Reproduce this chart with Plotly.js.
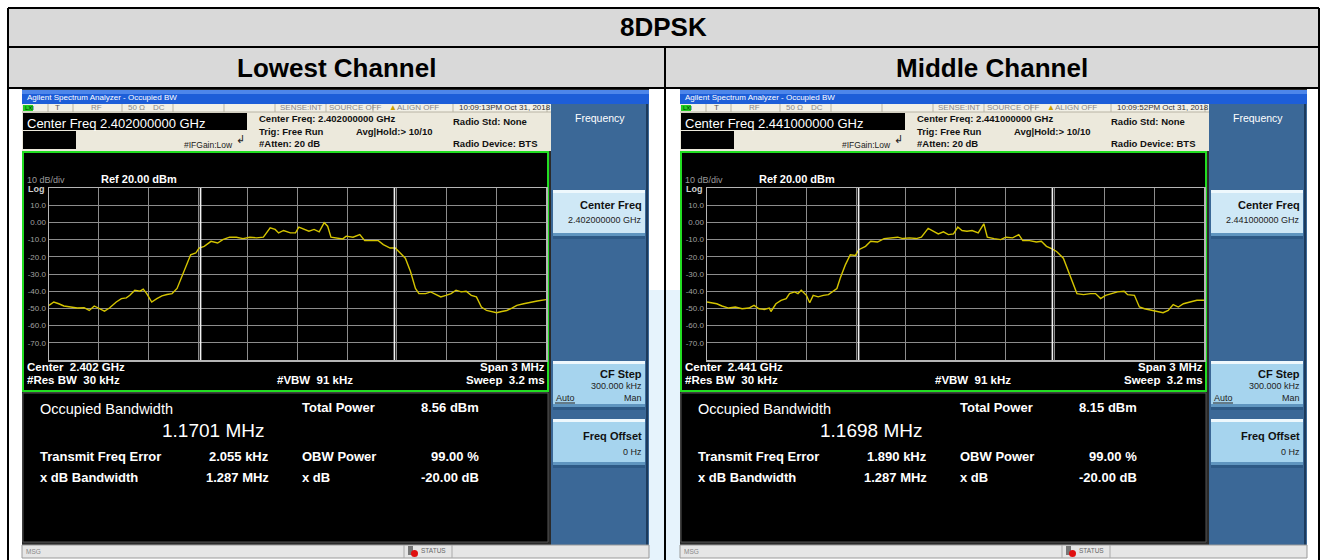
<!DOCTYPE html>
<html><head><meta charset="utf-8">
<script src="https://cdn.plot.ly/plotly-3.0.1.min.js"></script>
<style>html,body{margin:0;padding:0;background:#fff}#chart{width:1326px;height:560px}</style>
</head><body><div id="chart"></div>
<script>
// ---------------- DATA ----------------
const tableTitle = "8DPSK";
const channelNames = ["Lowest Channel", "Middle Channel"];
const centerFreqFull = ["2.402000000", "2.441000000"];
const centerFreqShort = ["2.402", "2.441"];
const timestamps = ["10:09:13PM Oct 31, 2018", "10:09:52PM Oct 31, 2018"];
const occupiedBW_MHz = ["1.1701", "1.1698"];
const totalPower_dBm = ["8.56", "8.15"];
const freqError_kHz = ["2.055", "1.890"];
const xdbBandwidth_MHz = ["1.287", "1.287"];
const obwPower = "99.00 %";
const xdbValue = "-20.00 dB";

const yTickVals = [10, 0, -10, -20, -30, -40, -50, -60, -70];
const yTickText = ["10.0", "0.00", "-10.0", "-20.0", "-30.0", "-40.0", "-50.0", "-60.0", "-70.0"];
const xGridMHz = [-1.5, -1.2, -0.9, -0.6, -0.3, 0, 0.3, 0.6, 0.9, 1.2, 1.5];

// trace, lowest channel (offset from center in MHz, level in dBm)
const offsetLow = [-1.500,-1.471,-1.441,-1.410,-1.369,-1.329,-1.288,-1.257,-1.227,-1.196,-1.165,-1.135,-1.094,-1.063,-1.033,-1.012,-0.982,-0.951,-0.931,-0.910,-0.880,-0.849,-0.818,-0.788,-0.757,-0.727,-0.706,-0.676,-0.645,-0.614,-0.594,-0.563,-0.522,-0.482,-0.451,-0.410,-0.369,-0.329,-0.288,-0.247,-0.206,-0.165,-0.135,-0.114,-0.084,-0.043,-0.012,0.008,0.039,0.069,0.100,0.131,0.161,0.182,0.202,0.243,0.273,0.294,0.335,0.376,0.406,0.447,0.488,0.518,0.559,0.590,0.620,0.651,0.682,0.712,0.733,0.773,0.804,0.835,0.865,0.896,0.927,0.957,0.988,1.018,1.049,1.080,1.110,1.141,1.171,1.202,1.233,1.263,1.294,1.324,1.365,1.406,1.447,1.500];
const levelLow = [-48.2,-46.3,-47.3,-48.6,-49.2,-49.8,-49.6,-51.2,-48.6,-50.2,-51.6,-49.8,-46.3,-44.3,-43.9,-42.4,-39.4,-40.0,-38.8,-41.4,-46.3,-44.3,-42.7,-41.9,-41.4,-38.4,-33.5,-26.7,-18.8,-17.8,-14.9,-13.9,-11.0,-12.0,-10.0,-8.6,-8.6,-9.4,-8.6,-9.0,-8.6,-3.1,-4.1,-6.1,-4.7,-6.1,-6.1,-2.7,-4.1,-5.1,-4.1,-5.5,-0.2,-2.2,-8.6,-9.0,-9.6,-8.0,-8.6,-7.1,-10.6,-10.6,-10.6,-12.9,-14.9,-14.9,-17.8,-20.8,-28.6,-38.4,-41.4,-41.4,-40.4,-42.0,-43.3,-42.4,-41.4,-39.4,-40.4,-40.0,-42.4,-43.3,-49.2,-51.2,-51.8,-52.5,-51.8,-51.2,-49.8,-48.2,-47.3,-46.3,-45.7,-44.9];

// trace, middle channel
const offsetMid = [-1.500,-1.471,-1.441,-1.410,-1.369,-1.329,-1.288,-1.247,-1.216,-1.186,-1.155,-1.124,-1.114,-1.084,-1.053,-1.022,-1.002,-0.971,-0.951,-0.931,-0.900,-0.880,-0.859,-0.829,-0.798,-0.767,-0.737,-0.716,-0.696,-0.665,-0.635,-0.604,-0.584,-0.543,-0.512,-0.471,-0.431,-0.390,-0.349,-0.318,-0.278,-0.237,-0.206,-0.165,-0.135,-0.104,-0.073,-0.043,-0.012,0.014,0.039,0.069,0.100,0.137,0.171,0.192,0.233,0.273,0.304,0.345,0.382,0.406,0.447,0.488,0.518,0.549,0.580,0.610,0.651,0.682,0.712,0.733,0.773,0.814,0.845,0.876,0.906,0.937,0.978,1.018,1.039,1.080,1.110,1.141,1.182,1.212,1.253,1.284,1.314,1.345,1.376,1.416,1.457,1.500];
const levelMid = [-46.3,-46.7,-47.3,-48.6,-49.8,-49.2,-50.2,-49.8,-48.2,-50.2,-50.6,-49.8,-51.8,-47.3,-45.3,-44.3,-41.4,-40.4,-41.4,-39.4,-42.4,-46.7,-42.4,-43.3,-42.4,-42.0,-40.0,-38.4,-32.5,-24.7,-18.8,-19.2,-15.9,-13.9,-11.0,-11.4,-9.4,-9.0,-8.6,-9.4,-9.0,-9.4,-8.6,-3.5,-5.1,-6.7,-5.5,-7.1,-6.7,-2.7,-4.7,-5.1,-4.7,-6.1,-0.8,-8.6,-9.4,-10.0,-8.6,-9.0,-7.1,-10.6,-10.6,-11.4,-11.0,-13.9,-15.3,-16.9,-20.8,-28.6,-36.5,-41.4,-42.0,-41.4,-41.4,-44.3,-42.4,-41.4,-40.4,-40.0,-42.0,-42.4,-49.2,-50.2,-51.2,-51.8,-52.5,-51.2,-47.8,-49.2,-47.3,-46.3,-45.3,-45.3];

const traceOffsets = [offsetLow, offsetMid];
const traceLevels = [levelLow, levelMid];

// ---------------- DRAWING ----------------
const W = 1326, H = 560;
const FF = 'Liberation Sans, Arial, sans-serif';
const px = x => x / W, py = y => 1 - y / H;
const shapes = [], ann = [];

function rect(x0, y0, x1, y1, fill, lc, lw, layer) {
  shapes.push({type:'rect', xref:'paper', yref:'paper', x0:px(x0), x1:px(x1), y0:py(y1), y1:py(y0),
    fillcolor: fill || 'rgba(0,0,0,0)', line:{color: lc || 'rgba(0,0,0,0)', width: lw || 0}, layer: layer || 'below'});
}
function seg(x0, y0, x1, y1, color, w, layer) {
  shapes.push({type:'line', xref:'paper', yref:'paper', x0:px(x0), x1:px(x1), y0:py(y0), y1:py(y1),
    line:{color: color, width: w}, layer: layer || 'below'});
}
function txt(x, y, s, size, color, anchor, bold) {
  ann.push({xref:'paper', yref:'paper', x:px(x), y:py(y), text: bold ? '<b>' + s + '</b>' : s, showarrow:false,
    xanchor: anchor || 'left', yanchor:'middle', borderpad:0, font:{family:FF, size:size, color:color}});
}

// table
rect(8, 8, 1319, 88, '#d9d9d9');
txt(663, 27, tableTitle, 26, '#000', 'center', true);
txt(336, 68, channelNames[0], 26, '#000', 'center', true);
txt(992, 68, channelNames[1], 26, '#000', 'center', true);
// watermark tint in the gaps
rect(649, 290, 664, 560, '#e6f3fc');
rect(666, 290, 680, 560, '#e6f3fc');

const data = [];
function screen(i, dx) {
  const X = v => v + dx;
  // frame
  rect(X(22), 89, X(649), 558, '#2a2a2a');
  // title bar
  rect(X(22), 90, X(649), 104, '#1d5ed8');
  rect(X(22), 90, X(649), 94, '#4d86ea');
  txt(X(26), 97, 'Agilent Spectrum Analyzer - Occupied BW', 8, '#ffffff', 'left');
  // header beige
  rect(X(22), 104, X(551), 151, '#ece9dc');
  rect(X(22), 104, X(551), 112, '#f2f0e6');
  seg(X(22), 112, X(551), 112, '#b8b4a4', 1);
  [48, 73, 122, 173, 224, 275, 326, 373, 453, 547].forEach(v => seg(X(v), 104, X(v), 112, '#b8b4a4', 1));
  rect(X(23), 105, X(33), 111, '#22cc22');
  txt(X(24), 108, 'LXI', 6, '#003300', 'left');
  txt(X(58), 108, 'T', 8, '#555', 'center');
  txt(X(96), 108, 'RF', 8, '#888', 'center');
  txt(X(136), 108, '50 Ω', 8, '#888', 'center');
  txt(X(159), 108, 'DC', 8, '#888', 'center');
  txt(X(323), 108, 'SENSE:INT', 8, '#888', 'right');
  txt(X(328), 108, 'SOURCE OFF', 8, '#888', 'left');
  txt(X(388), 108, '<span style="color:#c9a000">▲</span>ALIGN OFF', 8, '#888', 'left');
  txt(X(458), 108, timestamps[i], 8, '#333', 'left');
  // center freq box
  rect(X(23), 113, X(247), 130, '#000000');
  txt(X(26), 123, 'Center Freq ' + centerFreqFull[i] + ' GHz', 13, '#ffffff', 'left');
  rect(X(23), 131, X(76), 149, '#000000');
  txt(X(183), 145, '#IFGain:Low', 8.5, '#222', 'left');
  txt(X(240), 139, '↲', 11, '#222', 'center');
  txt(X(258), 118, 'Center Freq: ' + centerFreqFull[i] + ' GHz', 9.5, '#111', 'left', true);
  txt(X(258), 131, 'Trig: Free Run', 9.5, '#111', 'left', true);
  txt(X(355), 131, 'Avg|Hold:&gt; 10/10', 9.5, '#111', 'left', true);
  txt(X(258), 143, '#Atten: 20 dB', 9.5, '#111', 'left', true);
  txt(X(452), 121, 'Radio Std: None', 9.5, '#111', 'left', true);
  txt(X(452), 143, 'Radio Device: BTS', 9.5, '#111', 'left', true);
  // softkey panel
  rect(X(551), 104, X(649), 545, '#3b6897');
  seg(X(647), 104, X(647), 545, '#1c3a5c', 2);
  txt(X(600), 118, 'Frequency', 10.5, '#ffffff', 'center');
  // buttons
  function button(y0, y1, fill) {
    rect(X(553), y0, X(645), y1, fill);
    rect(X(553), y0, X(645), y0 + 3, '#eef8fd');
    rect(X(553), y1 - 6, X(645), y1, '#5f95bf');
    rect(X(553), y1 - 3, X(645), y1, '#2e5a86');
  }
  button(190, 239, '#cfe8f6');
  txt(X(643), 205, 'Center Freq', 11, '#111', 'right', true);
  txt(X(643), 220, centerFreqFull[i] + ' GHz', 9, '#222', 'right');
  button(361, 410, '#a6d4ee');
  txt(X(643), 374, 'CF Step', 11, '#111', 'right', true);
  txt(X(643), 386, '300.000 kHz', 9, '#222', 'right');
  txt(X(555), 398, 'Auto', 9, '#222', 'left');
  seg(X(555), 403, X(575), 403, '#222', 1);
  txt(X(643), 398, 'Man', 9, '#222', 'right');
  button(419, 468, '#a6d4ee');
  txt(X(643), 436, 'Freq Offset', 11, '#111', 'right', true);
  txt(X(643), 452, '0 Hz', 9, '#222', 'right');
  // graph area
  rect(X(23), 152, X(548), 391, '#000000', '#22dd22', 2);
  txt(X(26), 180, '10 dB/div', 9, '#9a9a9a', 'left');
  txt(X(100), 179, 'Ref 20.00 dBm', 11, '#ffffff', 'left', true);
  txt(X(27), 189, 'Log', 9, '#cfcfcf', 'left', true);
  txt(X(26), 367, 'Center  ' + centerFreqShort[i] + ' GHz', 11.5, '#ffffff', 'left', true);
  txt(X(546), 367, 'Span 3 MHz', 11.5, '#ffffff', 'right', true);
  txt(X(26), 380, '#Res BW  30 kHz', 11.5, '#ffffff', 'left', true);
  txt(X(315), 380, '#VBW  91 kHz', 11.5, '#ffffff', 'center', true);
  txt(X(546), 380, 'Sweep  3.2 ms', 11.5, '#ffffff', 'right', true);
  // info area
  rect(X(23), 393, X(548), 542, '#000000', '#555555', 1);
  txt(X(39), 409, 'Occupied Bandwidth', 14.5, '#ffffff', 'left');
  txt(X(265), 430, occupiedBW_MHz[i] + ' MHz', 19, '#ffffff', 'right');
  txt(X(39), 456, 'Transmit Freq Error', 13, '#ffffff', 'left', true);
  txt(X(270), 456, freqError_kHz[i] + ' kHz', 13, '#ffffff', 'right', true);
  txt(X(39), 477, 'x dB Bandwidth', 13, '#ffffff', 'left', true);
  txt(X(270), 477, xdbBandwidth_MHz[i] + ' MHz', 13, '#ffffff', 'right', true);
  txt(X(301), 407, 'Total Power', 13, '#ffffff', 'left', true);
  txt(X(480), 407, totalPower_dBm[i] + ' dBm', 13, '#ffffff', 'right', true);
  txt(X(301), 456, 'OBW Power', 13, '#ffffff', 'left', true);
  txt(X(480), 456, obwPower, 13, '#ffffff', 'right', true);
  txt(X(301), 477, 'x dB', 13, '#ffffff', 'left', true);
  txt(X(480), 477, xdbValue, 13, '#ffffff', 'right', true);
  // status bar
  rect(X(22), 545, X(649), 558, '#e6e6e6', '#9a9a9a', 1);
  txt(X(25), 551, 'MSG', 6.5, '#888', 'left');
  seg(X(404), 545, X(404), 558, '#aaa', 1);
  seg(X(452), 545, X(452), 558, '#aaa', 1);
  rect(X(408), 546, X(413), 555, '#777');
  shapes.push({type:'circle', xref:'paper', yref:'paper', x0:px(X(411)), x1:px(X(418)), y0:py(557), y1:py(550), fillcolor:'#e01010', line:{width:0}, layer:'below'});
  txt(X(420), 550, 'STATUS', 6.5, '#666', 'left');

  // axes + trace
  const xa = i === 0 ? 'x' : 'x2', ya = i === 0 ? 'y' : 'y2';
  data.push({x: traceOffsets[i], y: traceLevels[i], xaxis: xa, yaxis: ya, mode: 'lines', type: 'scatter',
    line: {color: '#d4c400', width: 1.4}, hoverinfo: 'skip'});
  const half = parseFloat(occupiedBW_MHz[i]) / 2;
  [-half, half].forEach(v => shapes.push({type:'line', xref: xa, yref: ya, x0: v, x1: v, y0: -80, y1: 21,
    line: {color: '#f2f2f2', width: 1.6}, layer: 'above'}));
}
screen(0, 0);
screen(1, 658);

// table borders on top
seg(8, 8, 1319, 8, '#000', 2, 'above');
seg(8, 47, 1319, 47, '#000', 2, 'above');
seg(8, 88, 1319, 88, '#000', 2, 'above');
seg(8, 8, 8, 560, '#000', 2, 'above');
seg(1319, 8, 1319, 560, '#000', 2, 'above');
seg(665, 47, 665, 560, '#000', 2, 'above');

function xAxis(dx, anchor) {
  return {domain: [px(49 + dx), px(546 + dx)], range: [-1.5, 1.5], anchor: anchor, tickvals: xGridMHz,
    showticklabels: false, ticks: '', showgrid: true, gridcolor: '#8c8c8c', gridwidth: 1, zeroline: false,
    showline: true, mirror: true, linecolor: '#b5b5b5', linewidth: 1.5, fixedrange: true};
}
function yAxis(anchor) {
  return {domain: [py(360), py(188)], range: [-80, 20], anchor: anchor, tickvals: yTickVals, ticktext: yTickText,
    tickfont: {family: FF, size: 8, color: '#a0a0a0'}, ticks: '', showgrid: true, gridcolor: '#8c8c8c', gridwidth: 1,
    zeroline: false, showline: true, mirror: true, linecolor: '#b5b5b5', linewidth: 1.5, fixedrange: true};
}

const layout = {
  width: W, height: H, autosize: false, margin: {l: 0, r: 0, t: 0, b: 0, pad: 0},
  paper_bgcolor: '#ffffff', plot_bgcolor: 'rgba(0,0,0,0)', showlegend: false,
  xaxis: xAxis(0, 'y'), yaxis: yAxis('x'), xaxis2: xAxis(658, 'y2'), yaxis2: yAxis('x2'),
  shapes: shapes, annotations: ann
};
Plotly.newPlot('chart', data, layout, {staticPlot: true, displayModeBar: false});
</script></body></html>
